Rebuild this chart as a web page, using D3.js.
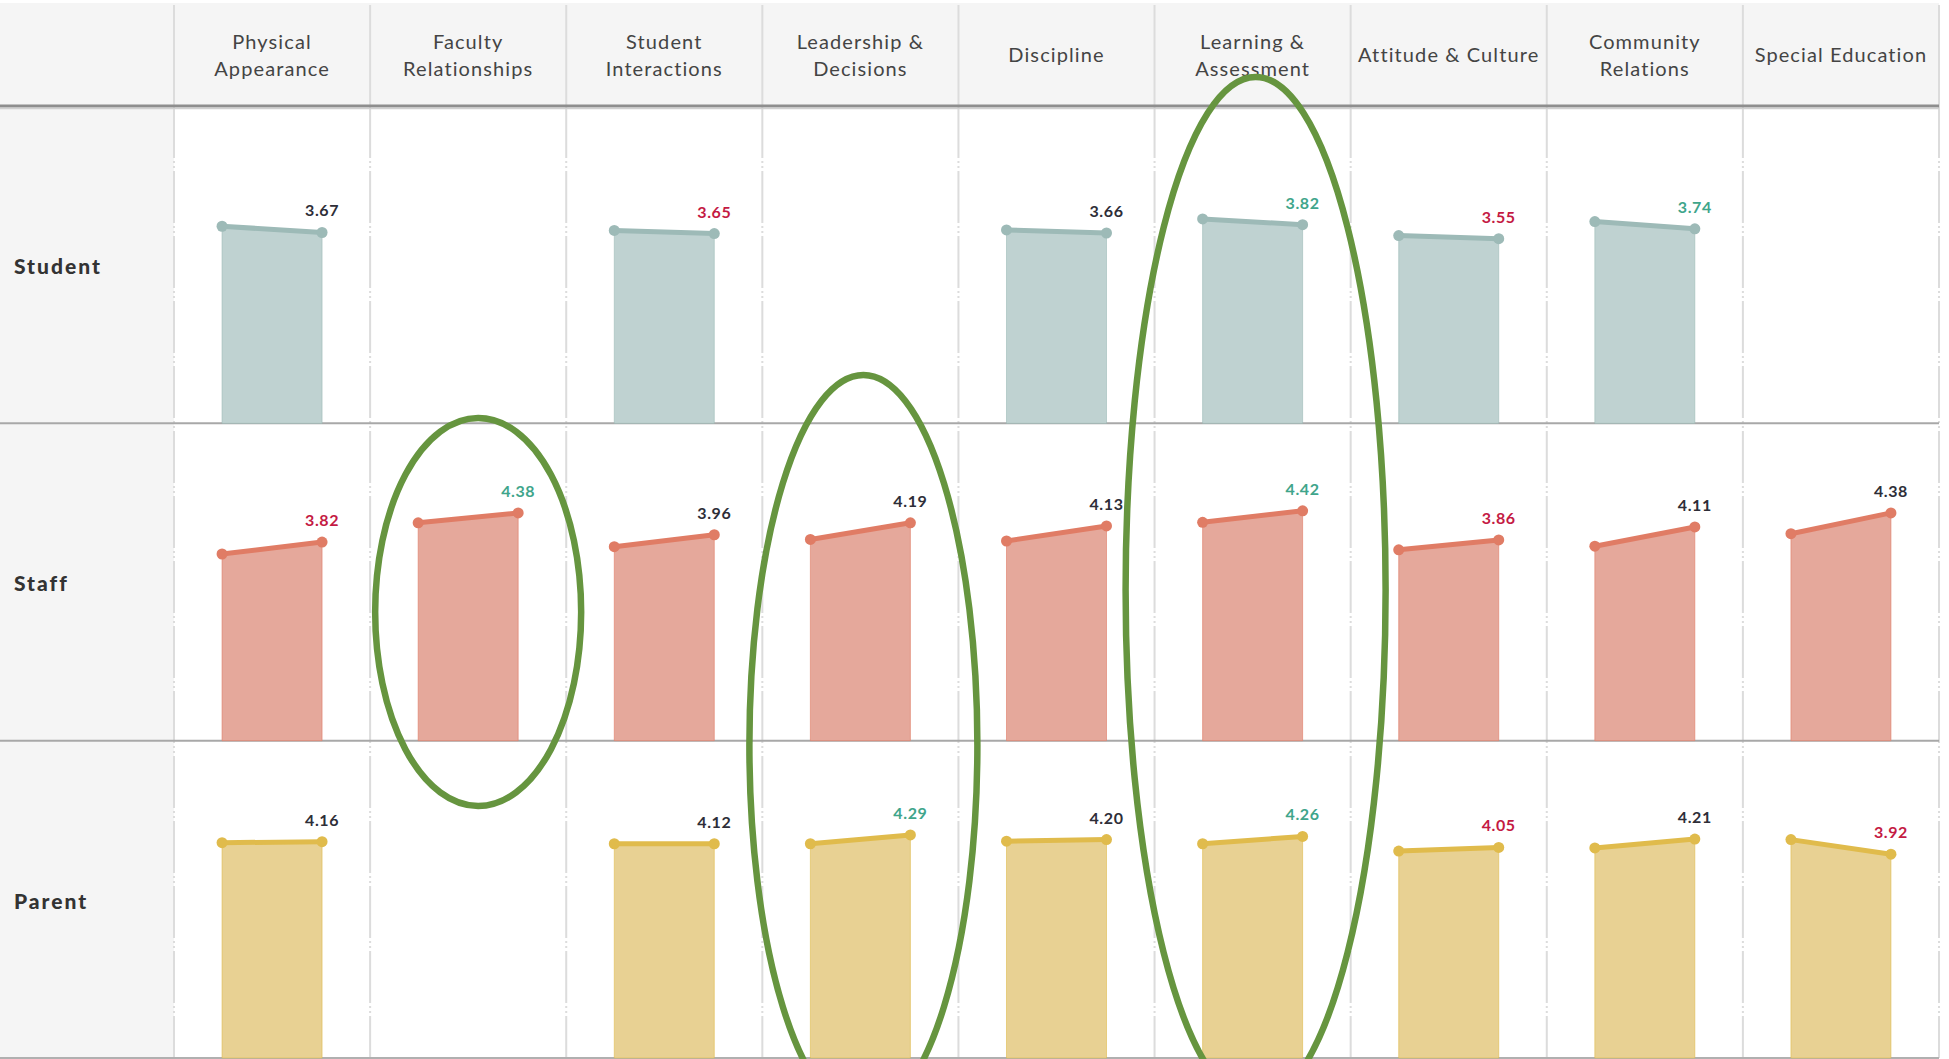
<!DOCTYPE html>
<html>
<head>
<meta charset="utf-8">
<script src="https://cdn.jsdelivr.net/npm/d3@7/dist/d3.min.js"></script>
<style>
  html, body { margin: 0; padding: 0; background: #fff; }
  svg { display: block; font-family: Lato, "Noto Sans", sans-serif; }
</style>
</head>
<body>
<svg id="chart" width="1949" height="1059"></svg>
<script>
// categories (columns) and their header lines
const categories = ["Physical Appearance", "Faculty Relationships", "Student Interactions",
  "Leadership & Decisions", "Discipline", "Learning & Assessment",
  "Attitude & Culture", "Community Relations", "Special Education"];
const headerLines = [["Physical", "Appearance"], ["Faculty", "Relationships"], ["Student", "Interactions"],
  ["Leadership &", "Decisions"], ["Discipline"], ["Learning &", "Assessment"],
  ["Attitude & Culture"], ["Community", "Relations"], ["Special Education"]];

const groups = ["Student", "Staff", "Parent"];
const periods = ["prior", "current"];

// prior -> current scores, null = no survey
const studentPrior   = [3.79, null, 3.71, null, 3.72, 3.93, 3.61, 3.88, null];
const studentCurrent = [3.67, null, 3.65, null, 3.66, 3.82, 3.55, 3.74, null];
const staffPrior     = [3.59, 4.19, 3.73, 3.87, 3.84, 4.20, 3.67, 3.74, 3.98];
const staffCurrent   = [3.82, 4.38, 3.96, 4.19, 4.13, 4.42, 3.86, 4.11, 4.38];
const parentPrior    = [4.14, null, 4.12, 4.12, 4.17, 4.12, 3.98, 4.04, 4.20];
const parentCurrent  = [4.16, null, 4.12, 4.29, 4.20, 4.26, 4.05, 4.21, 3.92];

// label highlight: hi = strength, lo = concern, mid = neutral
const studentFlag = ["mid", null, "lo", null, "mid", "hi", "lo", "hi", null];
const staffFlag   = ["lo", "hi", "mid", "mid", "mid", "hi", "lo", "mid", "mid"];
const parentFlag  = ["mid", null, "mid", "hi", "mid", "hi", "lo", "mid", "lo"];

// circled columns: [category, first row, last row]
const callouts = [["Faculty Relationships", "Staff", "Staff"],
  ["Leadership & Decisions", "Staff", "Parent"],
  ["Learning & Assessment", "Student", "Parent"]];

const series = {
  Student: { prior: studentPrior, current: studentCurrent, flag: studentFlag, fill: "#bfd2d1", line: "#9dbab7" },
  Staff:   { prior: staffPrior,   current: staffCurrent,   flag: staffFlag,   fill: "#e5a89b", line: "#e07c65" },
  Parent:  { prior: parentPrior,  current: parentCurrent,  flag: parentFlag,  fill: "#e8d193", line: "#e0bb4c" }
};
const flagColor = { hi: "#3fa58b", lo: "#c41a43", mid: "#2e2e38" };

const labelW = 174, right = 1939, headerTop = 3, headerH = 106, bottom = 1058;

const svg = d3.select("#chart");

const x = d3.scaleBand().domain(categories).range([labelW, right]);
const row = d3.scaleBand().domain(groups).range([headerH, bottom]);
const y = d3.scaleLinear().domain([0, 5]).range([row.bandwidth(), row.bandwidth() - 260]);
const barW = 100;
const px = d3.scalePoint().domain(periods)
  .range([(x.bandwidth() - barW) / 2, (x.bandwidth() + barW) / 2]);

// backgrounds
svg.append("rect").attr("x", 0).attr("y", headerTop).attr("width", right).attr("height", headerH - headerTop)
  .attr("fill", "#f5f5f5");
svg.append("rect").attr("x", 0).attr("y", headerH).attr("width", labelW).attr("height", bottom - headerH)
  .attr("fill", "#f5f5f5");

// vertical grid
const edges = [labelW].concat(categories.map(c => x(c) + x.bandwidth()));
svg.append("g").selectAll("line").data(edges).join("line")
  .attr("x1", d => d).attr("x2", d => d).attr("y1", headerTop + 2).attr("y2", headerH)
  .attr("stroke", "#dcdcdc").attr("stroke-width", 2);
svg.append("g").selectAll("line").data(edges).join("line")
  .attr("x1", d => d).attr("x2", d => d).attr("y1", headerH).attr("y2", bottom)
  .attr("stroke", "#dcdcdc").attr("stroke-width", 2)
  .attr("stroke-dasharray", "52,3,2,3,2,3");

// header text
const head = svg.append("g").selectAll("text").data(categories).join("text")
  .attr("text-anchor", "middle")
  .attr("fill", "#444")
  .style("font-size", "20px")
  .style("letter-spacing", "1.1px");
head.each(function (c, i) {
  const lines = headerLines[i];
  const lh = 27;
  const y0 = headerH / 2 - (lines.length - 1) * lh / 2 + 9;
  d3.select(this).selectAll("tspan").data(lines).join("tspan")
    .attr("x", x(c) + x.bandwidth() / 2)
    .attr("y", (d, k) => y0 + k * lh)
    .text(d => d);
});

// horizontal rules
svg.append("line").attr("x1", 0).attr("x2", right).attr("y1", headerH).attr("y2", headerH)
  .attr("stroke", "#8e8e8e").attr("stroke-width", 3);
svg.append("line").attr("x1", 0).attr("x2", right).attr("y1", headerH + 2.5).attr("y2", headerH + 2.5)
  .attr("stroke", "#d0d0d0").attr("stroke-width", 1.5);
svg.append("g").selectAll("line").data(groups.slice(1)).join("line")
  .attr("x1", 0).attr("x2", right).attr("y1", d => row(d)).attr("y2", d => row(d))
  .attr("stroke", "#a8a8a8").attr("stroke-width", 2);
svg.append("line").attr("x1", 0).attr("x2", right).attr("y1", bottom).attr("y2", bottom)
  .attr("stroke", "#b0b0b0").attr("stroke-width", 2);

// row labels
svg.append("g").selectAll("text").data(groups).join("text")
  .attr("x", 14).attr("y", d => row(d) + row.bandwidth() / 2 + 4)
  .attr("dominant-baseline", "middle")
  .attr("fill", "#333")
  .style("font-size", "21px").style("font-weight", 900).style("letter-spacing", "2px")
  .text(d => d);

// cells
const area = d3.area().x(d => px(d.period)).y0(y(0)).y1(d => y(d.value));
const line = d3.line().x(d => px(d.period)).y(d => y(d.value));

groups.forEach(g => {
  const s = series[g];
  const cells = categories.map((c, i) => ({
    cat: c, flag: s.flag[i],
    pts: [{ period: "prior", value: s.prior[i] }, { period: "current", value: s.current[i] }]
  })).filter(d => d.pts[1].value != null);

  const cg = svg.append("g").attr("transform", `translate(0,${row(g)})`)
    .selectAll("g").data(cells).join("g")
    .attr("transform", d => `translate(${x(d.cat)},0)`);

  cg.append("path").attr("d", d => area(d.pts)).attr("fill", s.fill)
    .attr("stroke", s.line).attr("stroke-width", 1).attr("stroke-opacity", 0.6);
  cg.append("path").attr("d", d => line(d.pts)).attr("fill", "none")
    .attr("stroke", s.line).attr("stroke-width", 5);
  cg.selectAll("circle").data(d => d.pts).join("circle")
    .attr("cx", d => px(d.period)).attr("cy", d => y(d.value)).attr("r", 5.5)
    .attr("fill", s.line);
  cg.append("text")
    .attr("x", px("current")).attr("y", d => y(d.pts[1].value) - 16)
    .attr("text-anchor", "middle")
    .attr("fill", d => flagColor[d.flag])
    .style("font-size", "16px").style("font-weight", 700).style("letter-spacing", "0.6px")
    .text(d => d3.format(".2f")(d.pts[1].value));
});

// green callout ellipses
const rows = d3.scaleOrdinal().domain(groups).range(groups.map(g => row(g)));
svg.append("g").selectAll("ellipse").data(callouts).join("ellipse")
  .attr("cx", d => x(d[0]) + x.bandwidth() / 2 + (d[1] === d[2] ? 10 : 3))
  .attr("cy", d => {
    if (d[1] === d[2]) return rows(d[1]) + row.bandwidth() / 2 + 30;
    return d[1] === "Student" ? 590 : 745;
  })
  .attr("rx", d => d[1] === d[2] ? 103 : (d[1] === "Student" ? 130 : 114))
  .attr("ry", d => d[1] === d[2] ? 194 : (d[1] === "Student" ? 513 : 370))
  .attr("fill", "none").attr("stroke", "#66953f").attr("stroke-width", 6.5);
</script>
</body>
</html>
